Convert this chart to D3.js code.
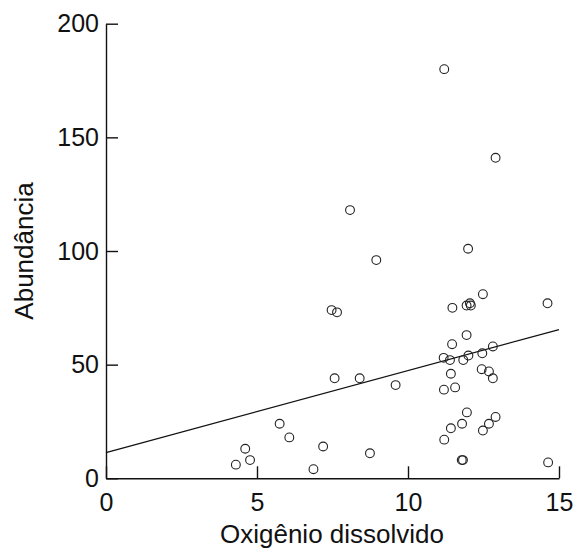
<!DOCTYPE html>
<html>
<head>
<meta charset="utf-8">
<script src="https://cdn.jsdelivr.net/npm/d3@7"></script>
<style>
  body { margin: 0; background: #fff; }
  text { font-family: "Liberation Sans", Arial, sans-serif; fill: #111; }
</style>
</head>
<body>
<script>
// oxygen (x) and abundance (y)
var oxygen = [11.20,12.90,8.08,11.99,8.95,12.48,14.62,11.47,11.94,12.05,12.08,7.47,7.65,11.94,11.46,12.81,12.46,12.00,11.18,11.39,11.83,12.44,12.68,12.81,11.42,7.57,8.40,9.59,11.19,11.56,11.95,12.90,12.68,11.79,11.42,12.48,11.20,5.75,6.07,7.19,4.61,8.74,4.77,4.30,6.87,11.78,11.82,14.64];
var abundance = [180,141,118,101,96,81,77,75,76,77,76,74,73,63,59,58,55,54,53,52,52,48,47,44,46,44,44,41,39,40,29,27,24,24,22,21,17,24,18,14,13,11,8,6,4,8,8,7];

var xTicks = [0,5,10,15];
var yTicks = [0,50,100,150,200];

// fitted line
var intercept = 11.3;
var slope = 3.61;

var svg = d3.select("body").append("svg")
    .attr("width", 576)
    .attr("height", 551);

var x = d3.scaleLinear().domain([0,15]).range([106,559]);
var y = d3.scaleLinear().domain([0,200]).range([478.3,23.7]);

//axes, ticks pointing inward
var xAxis = svg.append("g")
    .attr("transform", "translate(0," + y(0) + ")")
    .call(d3.axisBottom(x).tickValues(xTicks).tickSizeInner(-12).tickSizeOuter(0).tickPadding(15));

var yAxis = svg.append("g")
    .attr("transform", "translate(" + x(0) + ",0)")
    .call(d3.axisLeft(y).tickValues(yTicks).tickSizeInner(-12).tickSizeOuter(0).tickPadding(7));

[xAxis, yAxis].forEach(function(g){
    g.selectAll("path, line").attr("stroke", "#111").attr("stroke-width", 1.4);
    g.selectAll("text").style("font-size", "25px").style("fill", "#111");
});

//regression line
svg.append("line")
    .attr("x1", x(0)).attr("y1", y(intercept))
    .attr("x2", x(15)).attr("y2", y(intercept + slope*15))
    .attr("stroke", "#111")
    .attr("stroke-width", 1.3);

//points
svg.selectAll("circle")
    .data(oxygen)
    .enter()
    .append("circle")
    .attr("cx", function(d){ return x(d); })
    .attr("cy", function(d, i){ return y(abundance[i]); })
    .attr("r", 4.4)
    .attr("fill", "none")
    .attr("stroke", "#222")
    .attr("stroke-width", 1.1);

//titles
svg.append("text")
    .attr("x", 332)
    .attr("y", 543)
    .attr("text-anchor", "middle")
    .style("font-size", "26px")
    .text("Oxigênio dissolvido");

svg.append("text")
    .attr("transform", "translate(33,251) rotate(-90)")
    .attr("text-anchor", "middle")
    .style("font-size", "26px")
    .text("Abundância");
</script>
</body>
</html>
